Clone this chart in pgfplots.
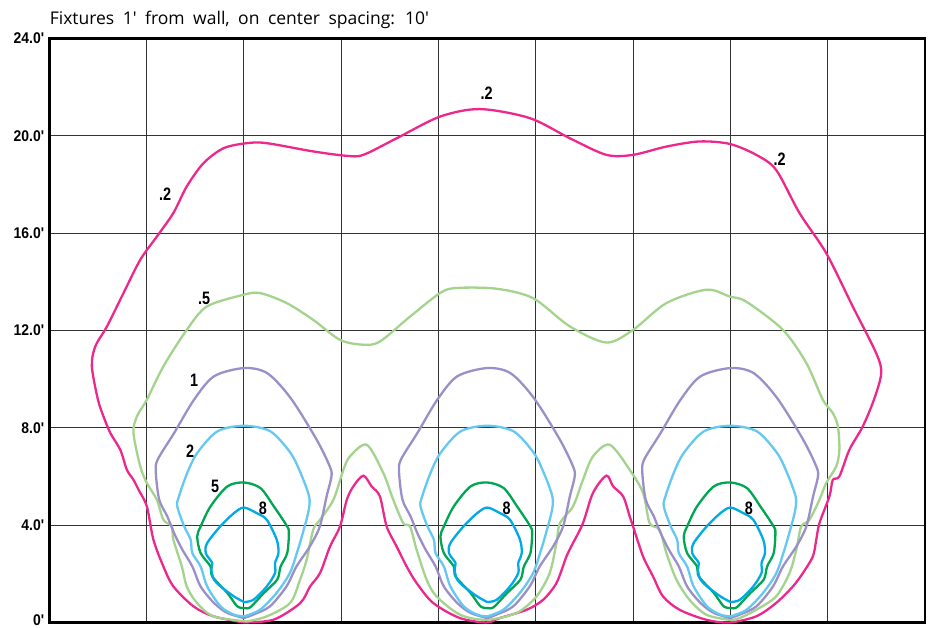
\documentclass[border=0pt]{standalone}
\usepackage{pgfplots}
\usepackage{pgfplotstable}
\pgfplotsset{compat=1.18}
\usepackage{fontspec}
\setmainfont{Open Sans}
\newfontfamily\titlefont[Ligatures=TeXOff]{Open Sans}
\newfontfamily\tickfont[Ligatures=TeXOff,FakeStretch=0.9]{Liberation Sans Bold}
\newfontfamily\condfont[FakeStretch=0.8,Ligatures=TeXOff]{Liberation Sans Bold}
\definecolor{cPink}{HTML}{EC288C}
\definecolor{cLGreen}{HTML}{A3D38C}
\definecolor{cPurple}{HTML}{9B8FC8}
\definecolor{cLBlue}{HTML}{64C8F0}
\definecolor{cGreen}{HTML}{00A651}
\definecolor{cBlue}{HTML}{00AAE6}

% inner contours, x relative to fixture centre
\pgfplotstableread{
x y
0 0.85
-0.41 1.08
-0.96 1.49
-1.23 1.77
-1.34 2.18
-1.30 2.45
-1.57 2.86
-1.51 3.27
-0.96 3.97
-0.41 4.50
0 4.73
0.53 4.50
0.94 4.23
1.35 3.41
1.42 2.86
1.28 2.45
1.28 2.04
0.94 1.49
0.39 0.94
0 0.85
}\tblEight

\pgfplotstableread{
x y
0.05 0.60
-0.27 0.67
-0.68 1.22
-1.30 1.90
-1.37 2.31
-1.78 2.86
-1.92 3.54
-1.78 3.95
-1.37 4.78
-0.68 5.60
0 5.76
0.68 5.53
1.23 4.78
1.78 3.95
1.85 3.68
1.78 2.86
1.51 2.31
1.37 1.77
0.82 1.22
0.27 0.64
0.05 0.60
}\tblFive

\pgfplotstableread{
x y
0 0.26
-0.41 0.33
-0.96 0.67
-1.51 1.49
-1.78 2.31
-2.12 2.86
-2.19 3.41
-2.46 3.97
-2.74 4.78
-2.67 5.19
-2.33 6.15
-1.92 6.97
-1.09 7.86
0 8.09
1.09 7.86
1.92 6.97
2.33 6.15
2.68 5.19
2.66 4.60
2.42 3.68
2.22 3.00
1.89 2.04
1.34 1.22
0.66 0.53
0 0.26
}\tblTwo

\pgfplotstableread{
x y
0 0.19
-0.68 0.40
-1.23 0.81
-1.78 1.49
-2.12 2.31
-2.53 3.00
-2.87 3.68
-3.15 4.37
-3.48 5.05
-3.62 6.15
-3.55 6.69
-2.87 7.79
-2.05 9.16
-1.23 10.12
0 10.46
0.96 10.25
1.92 9.23
2.99 7.52
3.53 6.42
3.60 6.01
3.40 5.19
3.12 3.95
2.71 3.13
2.16 2.31
1.75 1.49
1.07 0.67
0.38 0.33
0 0.19
}\tblOne

\pgfplotstableread{
x y
8.12 0.05
6.75 0.26
6.07 0.81
5.65 1.49
5.45 2.31
5.10 3.41
5.04 3.95
4.69 4.23
4.42 5.05
4.01 5.74
3.74 6.42
3.46 7.79
3.60 8.47
4.01 9.16
4.69 10.53
5.65 12.03
6.48 12.99
7.98 13.47
8.67 13.54
9.76 13.13
10.85 12.44
11.95 11.62
12.91 11.42
13.59 11.55
14.80 12.55
16.06 13.54
16.74 13.75
18.39 13.72
19.89 13.33
21.40 12.17
22.90 11.51
24.00 12.03
25.37 13.13
27.01 13.68
27.97 13.40
28.65 13.19
30.16 12.03
31.12 10.67
31.80 9.16
32.21 8.61
32.42 8.06
32.48 7.10
32.35 6.42
31.94 5.74
31.66 5.05
31.25 4.23
30.91 3.95
30.71 3.00
30.43 2.04
29.88 1.08
29.06 0.53
28.38 0.19
27.97 0.12
27.01 0.33
26.32 0.94
25.78 1.77
25.37 2.86
25.09 3.82
24.68 4.09
24.41 5.33
23.86 6.28
23.04 7.31
22.35 6.83
21.94 5.87
21.53 4.78
20.99 4.09
20.85 3.27
20.57 2.04
20.03 1.08
19.21 0.40
17.97 0.12
16.88 0.33
15.92 1.08
15.51 1.77
15.10 3.00
14.83 3.95
14.55 4.09
14.14 5.05
13.73 6.15
13.05 7.31
12.36 6.83
12.09 6.28
11.68 5.05
11.13 4.23
10.85 3.82
10.58 2.59
10.31 1.77
9.90 0.81
8.94 0.26
8.12 0.05
}\tblHalf

\pgfplotstableread{
x y
7.98 0.01
6.75 0.26
5.93 0.67
5.10 1.49
4.69 2.31
4.28 3.41
4.01 4.78
3.67 5.46
3.46 5.87
3.19 6.28
2.92 7.10
2.51 7.79
2.23 8.47
2.00 9.16
1.75 10.53
1.89 11.35
2.37 12.17
3.05 13.54
3.74 14.91
4.42 15.86
5.10 16.83
5.65 17.92
6.34 18.88
7.16 19.49
8.12 19.70
8.94 19.70
10.85 19.36
12.23 19.18
12.91 19.22
14.28 19.90
16.06 20.79
17.70 21.10
19.75 20.73
21.40 19.90
22.90 19.22
24.00 19.22
25.37 19.56
26.73 19.77
27.97 19.67
29.06 19.22
29.88 18.60
30.84 16.83
31.94 15.18
33.03 12.99
33.99 11.08
34.20 10.25
33.90 9.16
33.44 8.06
32.89 7.10
32.48 6.01
32.21 5.87
32.07 5.19
31.66 4.09
31.53 3.41
31.39 2.72
30.98 2.04
30.57 1.49
29.88 0.81
29.06 0.26
27.97 0.01
27.01 0.12
25.91 0.53
25.23 1.08
24.82 1.90
24.41 2.72
24.00 3.95
23.86 4.37
23.59 5.19
23.18 5.60
22.90 6.04
22.35 5.33
21.94 4.09
21.53 3.27
21.26 2.72
20.85 1.63
20.30 0.94
19.62 0.53
18.52 0.19
17.97 0.01
16.88 0.19
15.78 0.81
15.10 1.63
14.69 2.31
14.28 3.13
13.87 3.95
13.59 5.19
13.25 5.60
12.91 6.04
12.50 5.60
12.23 5.05
11.95 3.95
11.54 3.13
11.13 2.04
10.72 1.49
10.31 0.80
9.21 0.12
7.98 0.01
}\tblFifth

\begin{document}
\begin{tikzpicture}
\useasboundingbox (-49.3pt,-5.3pt) rectangle (880.7pt,622.7pt);
\begin{axis}[
  at={(0pt,0pt)}, anchor=south west,
  scale only axis, width=875.7pt, height=584.2pt,
  xmin=0, xmax=36, ymin=0, ymax=24,
  xtick={4,8,12,16,20,24,28,32}, xticklabel=\empty,
  ytick={0,4,8,12,16,20,24},
  yticklabels={\raisebox{4.5pt}{0'},4.0',8.0',12.0',16.0',20.0',\raisebox{-4.5pt}{24.0'}},
  /pgf/number format/assume math mode=true,
  yticklabel style={font=\tickfont\fontsize{15.5}{15.5}\selectfont, inner sep=0pt, xshift=-5pt},
  grid=major, major grid style={draw=black!80, line width=1pt},
  major tick length=0pt,
  axis line style={line width=2.5pt},
  clip=false,
  every axis plot/.append style={line width=2.3pt, smooth, tension=0.5, no markers},
]
\addplot[cPink] table[x=x,y=y] {\tblFifth};
\addplot[cLGreen] table[x=x,y=y] {\tblHalf};
\addplot[cPurple] table[x expr=\thisrow{x}+8, y=y] {\tblOne};
\addplot[cPurple] table[x expr=\thisrow{x}+18, y=y] {\tblOne};
\addplot[cPurple] table[x expr=\thisrow{x}+28, y=y] {\tblOne};
\addplot[cLBlue] table[x expr=\thisrow{x}+8, y=y] {\tblTwo};
\addplot[cLBlue] table[x expr=\thisrow{x}+18, y=y] {\tblTwo};
\addplot[cLBlue] table[x expr=\thisrow{x}+28, y=y] {\tblTwo};
\addplot[cGreen] table[x expr=\thisrow{x}+8, y=y] {\tblFive};
\addplot[cGreen] table[x expr=\thisrow{x}+18, y=y] {\tblFive};
\addplot[cGreen] table[x expr=\thisrow{x}+28, y=y] {\tblFive};
\addplot[cBlue] table[x expr=\thisrow{x}+8, y=y] {\tblEight};
\addplot[cBlue] table[x expr=\thisrow{x}+18, y=y] {\tblEight};
\addplot[cBlue] table[x expr=\thisrow{x}+28, y=y] {\tblEight};
\begin{scope}[every node/.style={font=\condfont\fontsize{18}{18}\selectfont, inner sep=0pt}]
\node at (axis cs:17.98,21.75) {.2};
\node at (axis cs:4.76,17.60) {.2};
\node at (axis cs:30.02,19.05) {.2};
\node at (axis cs:6.37,13.33) {.5};
\node at (axis cs:5.95,9.95) {1};
\node at (axis cs:5.79,7.03) {2};
\node at (axis cs:6.82,5.61) {5};
\node at (axis cs:8.78,4.70) {8};
\node at (axis cs:18.80,4.70) {8};
\node at (axis cs:28.76,4.70) {8};
\end{scope}
\node[anchor=base west, inner sep=0pt, xshift=0.3pt, yshift=13.5pt,
  font=\titlefont\fontsize{17.5}{17.5}\selectfont] at (rel axis cs:0,1)
  {\spaceskip=8.5pt\relax Fixtures 1' from wall, on center spacing: 10'};
\end{axis}
\end{tikzpicture}
\end{document}
